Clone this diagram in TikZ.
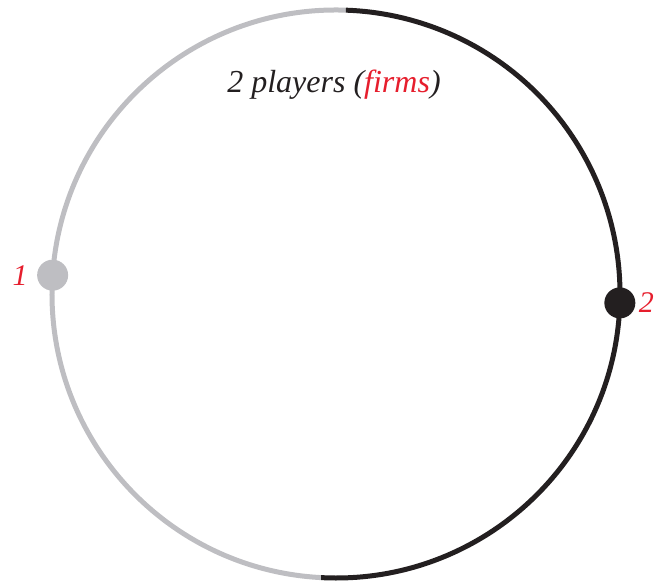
\documentclass[tikz,border=0pt]{standalone}
\usepackage{fontspec}
\setmainfont{Liberation Serif}
\usepackage{tikz}
\usetikzlibrary{positioning, calc}
\definecolor{mygray}{RGB}{190,190,194}
\definecolor{mydark}{RGB}{35,31,32}
\definecolor{myred}{RGB}{230,30,45}
\tikzset{
  ring/.style={line width=5pt},
  player/.style={circle, inner sep=0pt, minimum size=31pt},
  plabel/.style={font=\fontsize{30}{36}\selectfont\itshape, color=myred, inner sep=0pt},
  title/.style={font=\fontsize{32}{38}\selectfont\itshape, color=mydark}
}

\begin{document}
\begin{tikzpicture}[x=1pt, y=1pt]
  \useasboundingbox (0,0) rectangle (656,583);
  \coordinate (c) at (336,289);

  % the two halves of the circle
  \draw[ring, mygray] ($(c)+(88:284pt)$) arc[start angle=88, end angle=267, radius=284pt];
  \draw[ring, mydark] ($(c)+(267:284pt)$) arc[start angle=267, end angle=448, radius=284pt];

  % players
  \node[player, fill=mygray] (p1) at ($(c)+(176.2:284pt)$) {};
  \node[player, fill=mydark] (p2) at ($(c)+(-1.8:284pt)$) {};
  \node[plabel, left=9pt of p1] (l1) {1};
  \node[plabel, right=3pt of p2] (l2) {2};

  \node[title] (t) at (334,498) {2 players (\textcolor{myred}{firms})};
\end{tikzpicture}
\end{document}
